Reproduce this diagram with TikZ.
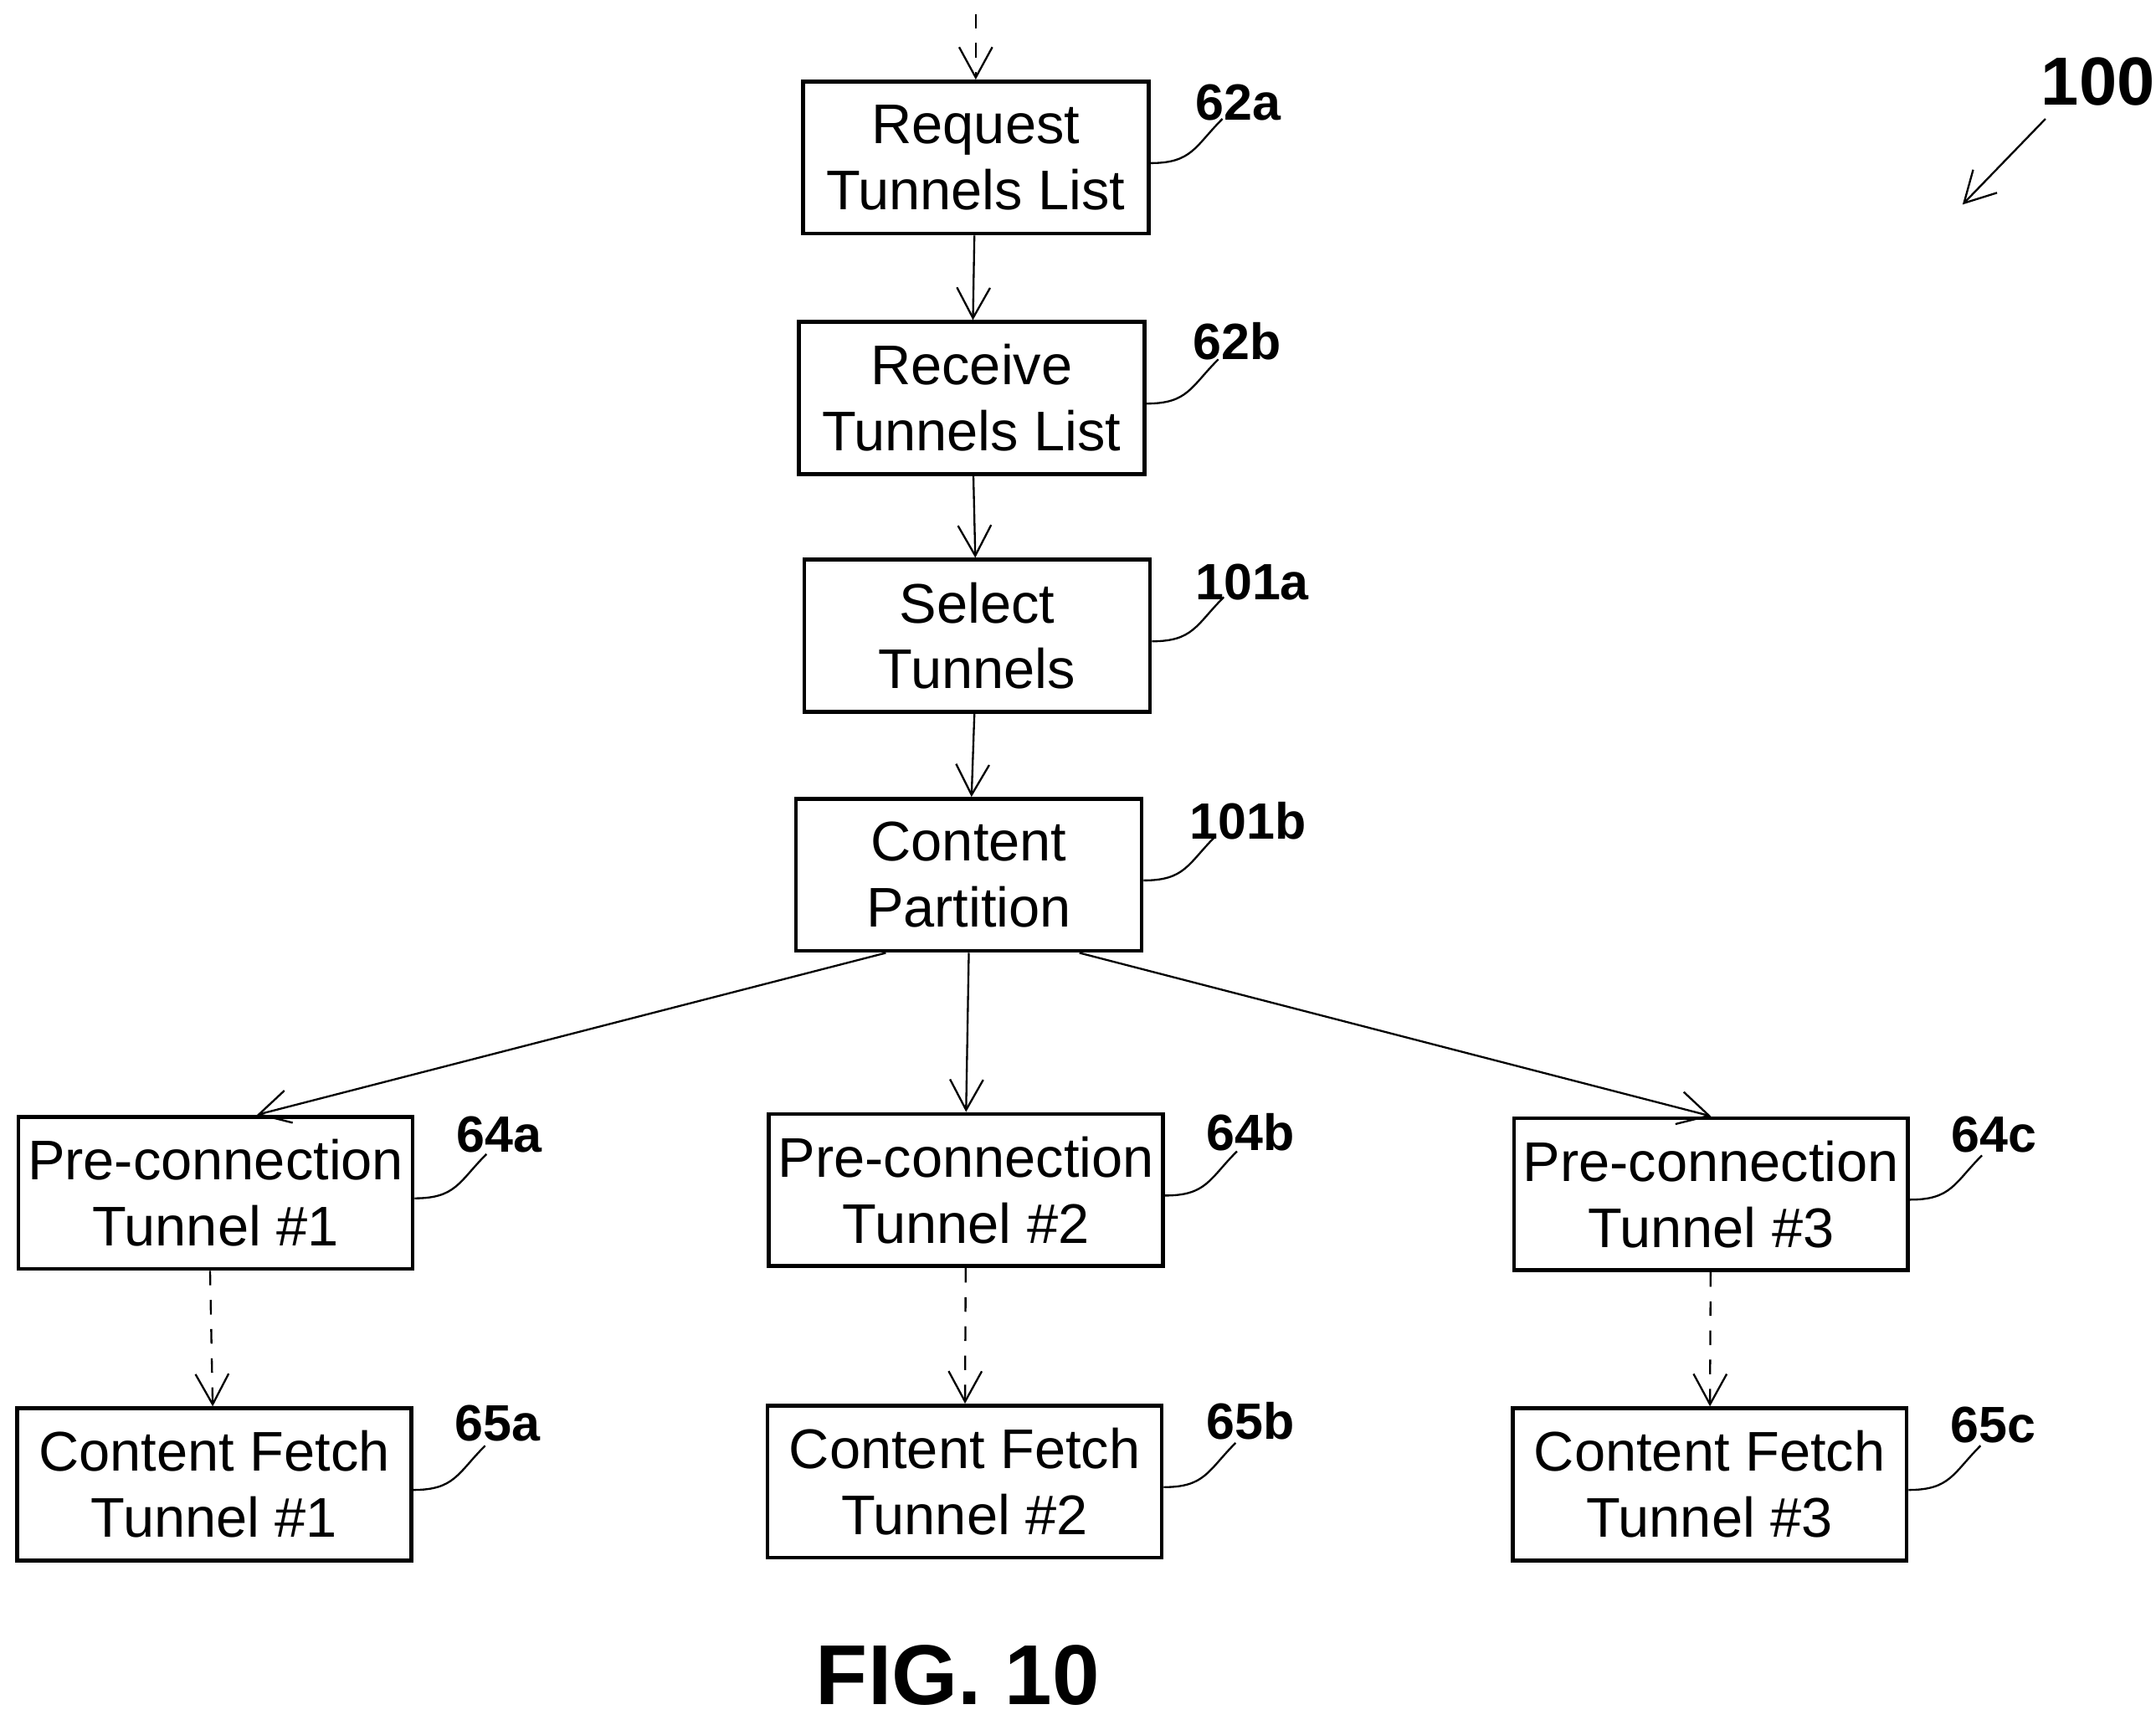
\documentclass[tikz,border=0pt]{standalone}
\usepackage{fontspec}
\setmainfont{Liberation Sans}
\usetikzlibrary{arrows.meta}
\begin{document}
\begin{tikzpicture}[x=0.01cm, y=-0.01cm]
    % Styles
    \tikzstyle{stepbox} = [rectangle, draw=black, thick, minimum width=2.5cm, minimum height=1.1cm, align=center, inner sep=1pt, font=\fontsize{11.5}{13.6}\selectfont]
    \tikzstyle{widebox} = [stepbox, minimum width=2.85cm]
    \tikzstyle{ref} = [font=\fontsize{10.5}{12}\selectfont\bfseries]
    \tikzstyle{arrow} = [-{Straight Barb[length=2.2mm,width=2.4mm]}, thin]
    \tikzstyle{dashedarrow} = [arrow, dashed]
    \tikzstyle{leader} = [thin]

    \useasboundingbox (0,0) rectangle (1560,1244);

    % Nodes
    \coordinate (top) at (706,10);
    \node[stepbox] (R1) at (706,114) {Request\\Tunnels List};
    \node[stepbox] (R2) at (703,288) {Receive\\Tunnels List};
    \node[stepbox] (S1) at (707,460) {Select\\Tunnels};
    \node[stepbox] (P1) at (701,633) {Content\\Partition};
    \node[widebox] (T1) at (156,863) {Pre-connection\\Tunnel \#1};
    \node[widebox] (T2) at (699,861) {Pre-connection\\Tunnel \#2};
    \node[widebox] (T3) at (1238,864) {Pre-connection\\Tunnel \#3};
    \node[widebox] (F1) at (155,1074) {Content Fetch\\Tunnel \#1};
    \node[widebox] (F2) at (698,1072) {Content Fetch\\Tunnel \#2};
    \node[widebox] (F3) at (1237,1074) {Content Fetch\\Tunnel \#3};

    % Reference labels
    \node[ref] (L62a) at (896,74) {62a};
    \node[ref] (L62b) at (895,247) {62b};
    \node[ref] (L101a) at (906,421) {101a};
    \node[ref] (L101b) at (903,594) {101b};
    \node[ref] (L64a) at (361,821) {64a};
    \node[ref] (L64b) at (905,819) {64b};
    \node[ref] (L64c) at (1443,821) {64c};
    \node[ref] (L65a) at (360,1030) {65a};
    \node[ref] (L65b) at (905,1028) {65b};
    \node[ref] (L65c) at (1442,1031) {65c};
    \node[font=\fontsize{14}{16}\selectfont\bfseries] (L100) at (1518,59) {100};
    \coordinate (A100) at (1420,148);
    \node[font=\fontsize{17.5}{20}\selectfont\bfseries] (fig) at (693,1212) {FIG. 10};

    % Arrows
    \draw[dashedarrow] (top) -- (R1);
    \draw[arrow] (R1) -- (R2);
    \draw[arrow] (R2) -- (S1);
    \draw[arrow] (S1) -- (P1);
    \draw[arrow] ([xshift=-0.6cm]P1.south) -- ([xshift=0.3cm]T1.north);
    \draw[arrow] (P1.south) -- (T2.north);
    \draw[arrow] ([xshift=0.8cm]P1.south) -- (T3.north);
    \draw[dashedarrow] ([xshift=-0.04cm]T1.south) -- (F1);
    \draw[dashedarrow] (T2) -- (F2);
    \draw[dashedarrow] (T3) -- (F3);
    \draw[arrow] (1480,86) -- (A100);

    % Leaders
    \foreach \b in {R1, R2, S1, P1, T1, T2, T3, F1, F2, F3}
        \draw[leader] ([yshift=-0.04cm]\b.east) .. controls +(0.3cm,0) and +(-0.2cm,-0.2cm) .. ([xshift=0.52cm,yshift=0.28cm]\b.east);
\end{tikzpicture}
\end{document}
